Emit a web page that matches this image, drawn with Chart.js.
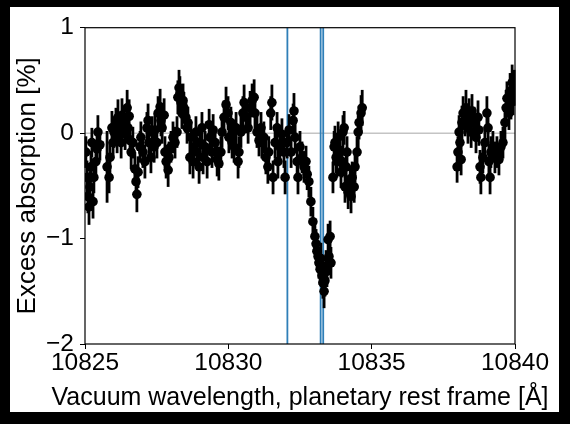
<!DOCTYPE html>
<html>
<head>
<meta charset="utf-8">
<script src="https://cdn.jsdelivr.net/npm/chart.js@4"></script>
<style>
  html, body { margin: 0; padding: 0; background: #000; }
  #frame { position: absolute; left: 10px; top: 7px; width: 549px; height: 405px; background: #fff; }
</style>
</head>
<body>
<div id="frame"><canvas id="chartHe" width="549" height="405"></canvas></div>
<script>
// wavelength [A], excess absorption [%], error bar (half length)
const wavelength = [
  10825.03, 10825.07, 10825.10, 10825.14, 10825.17, 10825.21, 10825.24, 10825.28, 10825.31, 10825.38,
  10825.42, 10825.45, 10825.52, 10825.77, 10825.84, 10825.87, 10825.94, 10825.98, 10826.01, 10826.08,
  10826.12, 10826.15, 10826.22, 10826.26, 10826.29, 10826.36, 10826.40, 10826.47, 10826.50, 10826.54,
  10826.57, 10826.61, 10826.67, 10826.74, 10826.78, 10826.81, 10826.85, 10826.92, 10826.95, 10827.02,
  10827.09, 10827.16, 10827.20, 10827.23, 10827.30, 10827.34, 10827.41, 10827.44, 10827.51, 10827.55,
  10827.62, 10827.65, 10827.69, 10827.76, 10827.79, 10827.83, 10827.90, 10827.93, 10828.00, 10828.07,
  10828.14, 10828.21, 10828.24, 10828.28, 10828.31, 10828.35, 10828.38, 10828.42, 10828.45, 10828.52,
  10828.56, 10828.59, 10828.66, 10828.70, 10828.77, 10828.80, 10828.87, 10828.91, 10828.98, 10829.01,
  10829.08, 10829.12, 10829.19, 10829.26, 10829.33, 10829.36, 10829.43, 10829.47, 10829.54, 10829.61,
  10829.67, 10829.74, 10829.78, 10829.85, 10829.92, 10829.99, 10830.02, 10830.09, 10830.13, 10830.20,
  10830.27, 10830.34, 10830.37, 10830.44, 10830.51, 10830.55, 10830.62, 10830.69, 10830.76, 10830.83,
  10830.90, 10830.93, 10831.00, 10831.07, 10831.14, 10831.17, 10831.24, 10831.31, 10831.38, 10831.41,
  10831.48, 10831.52, 10831.56, 10831.63, 10831.70, 10831.73, 10831.80, 10831.87, 10831.94, 10831.98,
  10832.05, 10832.12, 10832.19, 10832.26, 10832.29, 10832.33, 10832.40, 10832.43, 10832.50, 10832.57,
  10832.64, 10832.71, 10832.75, 10832.81, 10832.88, 10832.95, 10833.02, 10833.06, 10833.09, 10833.13,
  10833.16, 10833.20, 10833.23, 10833.27, 10833.30, 10833.34, 10833.37, 10833.41, 10833.44, 10833.48,
  10833.51, 10833.55, 10833.58, 10833.65, 10833.69, 10833.72, 10833.76, 10833.79, 10833.83, 10833.90,
  10833.93, 10833.97, 10834.00, 10834.04, 10834.07, 10834.11, 10834.14, 10834.18, 10834.25, 10834.28,
  10834.32, 10834.39, 10834.42, 10834.49, 10834.53, 10834.56, 10834.63, 10834.67,
  10837.98, 10838.01, 10838.05, 10838.08, 10838.12, 10838.15, 10838.19, 10838.26, 10838.29, 10838.36,
  10838.40, 10838.47, 10838.50, 10838.57, 10838.64, 10838.71, 10838.74, 10838.78, 10838.81, 10838.88,
  10838.95, 10839.02, 10839.06, 10839.09, 10839.13, 10839.16, 10839.23, 10839.30, 10839.37, 10839.44,
  10839.51, 10839.58, 10839.65, 10839.69, 10839.72, 10839.79, 10839.83, 10839.86, 10839.90, 10839.93, 10839.97
];
const excess = [
  -0.18, -0.42, -0.60, -0.70, -0.51, -0.32, -0.09, -0.65, -0.42, -0.27,
  -0.15, 0.01, -0.11, -0.32, -0.42, -0.23, 0.05, -0.09, 0.01, 0.08,
  -0.04, 0.15, 0.03, -0.09, 0.17, 0.10, -0.01, 0.24, 0.05, 0.16,
  -0.07, -0.18, -0.09, -0.34, -0.46, -0.58, -0.37, -0.13, -0.04, -0.18,
  -0.27, 0.05, 0.12, -0.09, -0.23, 0.01, -0.13, 0.03, -0.09, 0.19,
  0.25, 0.12, 0.05, 0.17, -0.18, -0.27, -0.35, -0.23, -0.13, -0.04,
  -0.09, 0.01, 0.34, 0.43, 0.38, 0.29, 0.19, 0.31, 0.24, 0.15,
  0.05, 0.10, -0.23, -0.04, -0.27, -0.13, 0.01, -0.18, -0.32, -0.09,
  0.05, -0.23, -0.13, -0.27, 0.08, -0.04, -0.18, 0.03, -0.09, -0.25,
  -0.29, -0.18, 0.01, 0.15, 0.27, 0.19, -0.04, 0.10, -0.09, -0.13,
  0.05, -0.27, -0.18, 0.01, 0.19, 0.29, 0.15, 0.05, 0.24, 0.31,
  0.34, 0.19, 0.01, -0.07, 0.05, -0.09, -0.04, -0.23, -0.32, -0.18,
  0.19, 0.29, -0.42, -0.09, 0.05, -0.27, -0.13, -0.01, -0.18, -0.42,
  -0.09, 0.03, -0.18, 0.12, 0.21, -0.04, -0.27, -0.42, -0.13, -0.23,
  -0.32, -0.27, -0.39, -0.46, -0.65, -0.84, -0.98, -1.05, -1.12, -1.17,
  -1.23, -1.29, -1.19, -1.35, -1.42, -1.50, -1.40, -1.26, -1.31, -1.01,
  -1.17, -0.98, -1.23, -0.42, -0.13, -0.09, -0.23, -0.27, -0.04, -0.18,
  -0.37, -0.27, 0.01, 0.05, -0.51, -0.32, -0.18, -0.56, -0.46, -0.60,
  -0.42, -0.51, -0.32, -0.18, 0.01, 0.10, 0.19, 0.24,
  -0.32, -0.18, 0.01, -0.09, -0.25, 0.10, 0.19, 0.12, 0.24, 0.05,
  0.17, 0.01, 0.21, 0.10, -0.04, 0.15, 0.03, -0.32, -0.42, -0.23,
  -0.09, 0.19, 0.05, -0.27, -0.42, -0.18, -0.13, -0.23, -0.18, -0.25,
  -0.13, -0.09, 0.10, 0.24, 0.33, 0.19, 0.40, 0.29, 0.48, 0.33, 0.43
];
const errorBar = [
  0.15, 0.16, 0.16, 0.17, 0.15, 0.15, 0.14, 0.16, 0.15, 0.15,
  0.15, 0.16, 0.15, 0.34, 0.15, 0.15, 0.16, 0.15, 0.15, 0.16,
  0.15, 0.17, 0.15, 0.15, 0.16, 0.15, 0.15, 0.17, 0.15, 0.16,
  0.15, 0.16, 0.15, 0.16, 0.16, 0.17, 0.15, 0.15, 0.15, 0.15,
  0.16, 0.15, 0.16, 0.15, 0.15, 0.15, 0.15, 0.16, 0.15, 0.16,
  0.17, 0.15, 0.15, 0.16, 0.15, 0.16, 0.16, 0.15, 0.15, 0.15,
  0.15, 0.15, 0.16, 0.17, 0.16, 0.15, 0.15, 0.16, 0.15, 0.15,
  0.15, 0.15, 0.16, 0.15, 0.16, 0.15, 0.15, 0.15, 0.16, 0.15,
  0.15, 0.16, 0.15, 0.16, 0.15, 0.15, 0.15, 0.15, 0.15, 0.16,
  0.16, 0.15, 0.15, 0.16, 0.17, 0.16, 0.15, 0.15, 0.15, 0.15,
  0.15, 0.16, 0.15, 0.15, 0.16, 0.17, 0.15, 0.15, 0.16, 0.16,
  0.17, 0.15, 0.15, 0.15, 0.15, 0.15, 0.15, 0.16, 0.16, 0.15,
  0.16, 0.17, 0.16, 0.15, 0.15, 0.16, 0.15, 0.15, 0.15, 0.16,
  0.15, 0.15, 0.15, 0.16, 0.17, 0.15, 0.16, 0.16, 0.15, 0.15,
  0.15, 0.15, 0.15, 0.15, 0.14, 0.14, 0.14, 0.14, 0.14, 0.15,
  0.15, 0.15, 0.15, 0.15, 0.15, 0.16, 0.15, 0.15, 0.15, 0.15,
  0.15, 0.15, 0.15, 0.15, 0.15, 0.16, 0.15, 0.15, 0.15, 0.15,
  0.15, 0.15, 0.16, 0.16, 0.15, 0.15, 0.15, 0.16, 0.15, 0.16,
  0.15, 0.15, 0.15, 0.15, 0.16, 0.16, 0.17, 0.17,
  0.15, 0.15, 0.16, 0.15, 0.15, 0.16, 0.16, 0.15, 0.17, 0.15,
  0.16, 0.15, 0.16, 0.15, 0.15, 0.16, 0.15, 0.16, 0.16, 0.15,
  0.15, 0.16, 0.15, 0.16, 0.16, 0.15, 0.15, 0.15, 0.15, 0.15,
  0.15, 0.15, 0.16, 0.17, 0.16, 0.16, 0.17, 0.16, 0.17, 0.16, 0.17
];
// He I triplet, vacuum wavelengths
const heliumLines = [10832.06, 10833.22, 10833.31];
const xTicks = [10825, 10830, 10835, 10840];
const yTicks = [-2, -1, 0, 1];
const xTitle = 'Vacuum wavelength, planetary rest frame [Å]';

const FONT = '"Liberation Sans", Arial, sans-serif';

const points = wavelength.map((w, i) => ({ x: w, y: excess[i] }));

// zero line, helium lines and error bars under the markers; frame and x title on top
const underlay = {
  id: 'underlay',
  beforeDatasetsDraw(chart) {
    const { ctx, chartArea, scales } = chart;
    const xs = scales.x, ys = scales.y;
    ctx.save();
    ctx.beginPath();
    ctx.rect(chartArea.left, chartArea.top, chartArea.right - chartArea.left, chartArea.bottom - chartArea.top);
    ctx.clip();

    ctx.strokeStyle = '#c4c4c4';
    ctx.lineWidth = 1.5;
    const y0 = ys.getPixelForValue(0);
    ctx.beginPath();
    ctx.moveTo(chartArea.left, y0);
    ctx.lineTo(chartArea.right, y0);
    ctx.stroke();

    ctx.strokeStyle = '#2f7fb8';
    ctx.lineWidth = 1.8;
    heliumLines.forEach(l => {
      const px = xs.getPixelForValue(l);
      ctx.beginPath();
      ctx.moveTo(px, chartArea.top);
      ctx.lineTo(px, chartArea.bottom);
      ctx.stroke();
    });
    ctx.restore();

    ctx.save();
    ctx.strokeStyle = '#000';
    ctx.lineWidth = 2.8;
    for (let i = 0; i < wavelength.length; i++) {
      const px = xs.getPixelForValue(wavelength[i]);
      ctx.beginPath();
      ctx.moveTo(px, ys.getPixelForValue(excess[i] - errorBar[i]));
      ctx.lineTo(px, ys.getPixelForValue(excess[i] + errorBar[i]));
      ctx.stroke();
    }
    ctx.restore();
  },
  afterDraw(chart) {
    const { ctx, chartArea } = chart;
    ctx.save();
    ctx.strokeStyle = '#000';
    ctx.lineWidth = 1.2;
    ctx.strokeRect(chartArea.left, chartArea.top, chartArea.right - chartArea.left, chartArea.bottom - chartArea.top);

    ctx.fillStyle = '#000';
    ctx.font = '25px ' + FONT;
    ctx.textAlign = 'center';
    ctx.textBaseline = 'middle';
    ctx.fillText(xTitle, (chartArea.left + chartArea.right) / 2, chartArea.bottom + 54);
    ctx.restore();
  }
};

const ctx = document.getElementById('chartHe').getContext('2d');
const myChart = new Chart(ctx, {
  type: 'scatter',
  data: {
    datasets: [{
      data: points,
      backgroundColor: '#000',
      borderWidth: 0,
      pointRadius: 4.8,
      pointHoverRadius: 4.8
    }]
  },
  options: {
    responsive: false,
    devicePixelRatio: 1,
    animation: false,
    layout: { padding: { left: 0, top: 17, right: 44, bottom: 0 } },
    plugins: { legend: { display: false }, tooltip: { enabled: false } },
    scales: {
      x: {
        type: 'linear',
        min: 10825,
        max: 10840,
        afterBuildTicks: s => { s.ticks = xTicks.map(v => ({ value: v })); },
        afterFit: s => { s.height = 68; },
        border: { display: false },
        grid: { drawOnChartArea: false, drawTicks: true, tickLength: 5, color: '#000', tickWidth: 1 },
        ticks: {
          color: '#000',
          padding: 0,
          maxRotation: 0,
          font: { family: FONT, size: 24.5 },
          callback: v => String(v)
        },
        title: { display: false }
      },
      y: {
        type: 'linear',
        min: -2,
        max: 1,
        afterBuildTicks: s => { s.ticks = yTicks.map(v => ({ value: v })); },
        afterFit: s => { s.width = 75; },
        border: { display: false },
        grid: { drawOnChartArea: false, drawTicks: true, tickLength: 5, color: '#000', tickWidth: 1 },
        ticks: {
          color: '#000',
          padding: 6,
          font: { family: FONT, size: 24.5 },
          callback: v => (v < 0 ? '\u2212' + Math.abs(v) : String(v))
        },
        title: {
          display: true,
          text: 'Excess absorption [%]',
          color: '#000',
          font: { family: FONT, size: 26 },
          padding: { top: 2, bottom: 0 }
        }
      }
    }
  },
  plugins: [underlay]
});
</script>
</body>
</html>
